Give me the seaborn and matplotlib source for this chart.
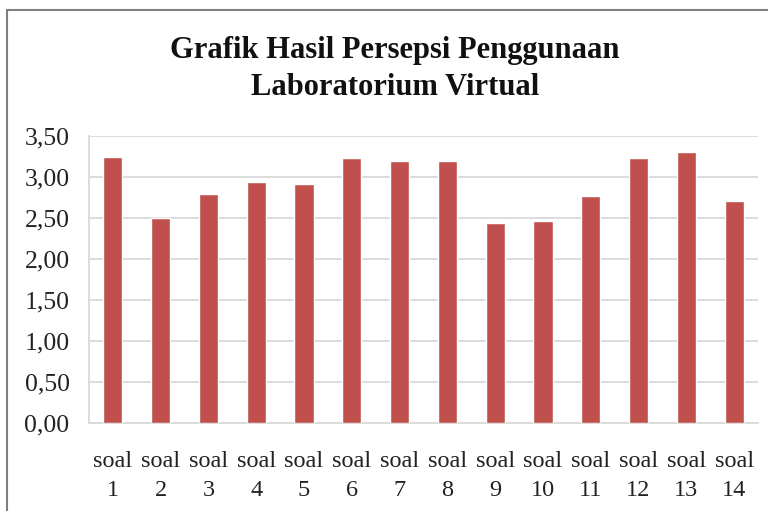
import matplotlib
matplotlib.use("Agg")
import matplotlib.pyplot as plt
import seaborn as sns
import pandas as pd
from matplotlib.patches import Rectangle

categories = [f"soal {i}" for i in range(1, 15)]
tick_labels = [f"soal\n{i}" for i in range(1, 15)]
values = [3.24, 2.50, 2.79, 2.94, 2.92, 3.23, 3.19, 3.20, 2.44, 2.46, 2.77, 3.23, 3.30, 2.71]
y_ticks = [0.0, 0.5, 1.0, 1.5, 2.0, 2.5, 3.0, 3.5]
y_tick_labels = [f"{v:.2f}".replace(".", ",") for v in y_ticks]
title = "Grafik Hasil Persepsi Penggunaan\nLaboratorium Virtual"

sns.set_theme(style="white")
plt.rcParams['font.family'] = ['Liberation Serif', 'DejaVu Serif']

df = pd.DataFrame({"soal": categories, "nilai": values})

fig = plt.figure(figsize=(7.68, 5.11), dpi=100)
ax = fig.add_axes([89/768, 1 - 423/511, (758-89)/768, (423-136)/511])

sns.barplot(data=df, x="soal", y="nilai", color="#C0504D", width=0.4,
            saturation=1, ax=ax, zorder=3)

ax.set_ylim(0, 3.5)
ax.set_yticks(y_ticks)
ax.set_yticklabels(y_tick_labels, fontsize=18.5)
ax.set_xticks(range(len(categories)))
ax.set_xticklabels(tick_labels, fontsize=17.5, linespacing=1.5)
ax.set_xlabel("")
ax.set_ylabel("")
ax.set_xlim(-0.5, len(categories) - 0.5)
ax.yaxis.grid(True, color="#D9D9D9", linewidth=1.3, zorder=0)
ax.set_axisbelow(True)
for s in ["top", "right"]:
    ax.spines[s].set_visible(False)
ax.spines["left"].set_color("#D9D9D9")
ax.spines["bottom"].set_color("#D9D9D9")
ax.spines["left"].set_linewidth(1.3)
ax.spines["bottom"].set_linewidth(1.3)
ax.tick_params(axis="y", pad=14, length=0, colors="#222222")
ax.tick_params(axis="x", pad=20, length=0, colors="#222222")

fig.text(395/768, 1 - 69/511, title, ha="center", va="center",
         fontsize=22, fontweight="bold", linespacing=1.32, color="#111111")

fig.patches.append(Rectangle((7/768, -0.1), 1.2, 1 - 10/511 + 0.1,
                             transform=fig.transFigure, fill=False,
                             edgecolor="#808080", linewidth=1.5, zorder=10))

fig.savefig("out.png", dpi=100)
